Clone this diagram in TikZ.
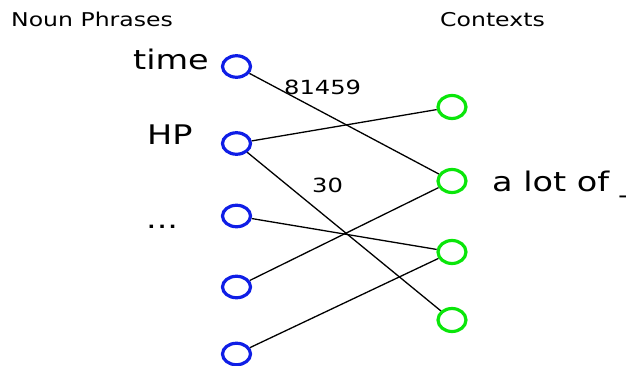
\documentclass[tikz,border=0pt]{standalone}
\usepackage{fontspec}
\setmainfont{DejaVu Sans}
\usetikzlibrary{shapes.geometric}
\definecolor{npblue}{RGB}{15,30,230}
\definecolor{ctxgreen}{RGB}{10,230,10}
\newcommand{\wide}[1]{\scalebox{1.24}[1]{#1}}
\begin{document}
\begin{tikzpicture}[x=1pt,y=-1pt,
		np/.style={draw=npblue,line width=3.2pt,ellipse,minimum width=28pt,minimum height=21.5pt,inner sep=0pt},
		ctx/.style={draw=ctxgreen,line width=3.2pt,ellipse,minimum width=28pt,minimum height=23pt,inner sep=0pt},
		head/.style={anchor=base west,inner sep=0pt,font=\fontsize{19}{22}\selectfont},
		word/.style={anchor=base west,inner sep=0pt,font=\fontsize{27}{30}\selectfont},
		count/.style={anchor=base west,inner sep=0pt,font=\fontsize{19.5}{22}\selectfont},
		edge/.style={draw,line width=1.3pt}]
		\useasboundingbox (0,0) rectangle (626,366);
		\node[head] (lnp) at (11,27) {\wide{Noun Phrases}};
		\node[head] (lctx) at (440,26.5) {\wide{Contexts}};
		\node[np] (n1) at (236.5,66.5) {};
		\node[np] (n2) at (236.5,143.5) {};
		\node[np] (n3) at (236.5,216) {};
		\node[np] (n4) at (236.5,287) {};
		\node[np] (n5) at (236.5,354) {};
		\node[ctx] (c1) at (452,107) {};
		\node[ctx] (c2) at (452,181) {};
		\node[ctx] (c3) at (452,252) {};
		\node[ctx] (c4) at (452,320) {};
		\node[word] (ltime) at (133,70) {\wide{time}};
		\node[word] (lhp) at (147,145) {\wide{HP}};
		\node[word] (ldots) at (146,228) {\wide{...}};
		\node[word] (llot) at (492,191.5) {\wide{a lot of \_}};
		\node[count] (w1) at (284,95) {\wide{81459}};
		\node[count] (w2) at (312,193) {\wide{30}};
		\draw[edge] (n1) -- (c2);
		\draw[edge] (n2) -- (c1);
		\draw[edge] (n2) -- (c4);
		\draw[edge] (n3) -- (c3);
		\draw[edge] (n4) -- (c2);
		\draw[edge] (n5) -- (c3);
		\end{tikzpicture}
\end{document}
